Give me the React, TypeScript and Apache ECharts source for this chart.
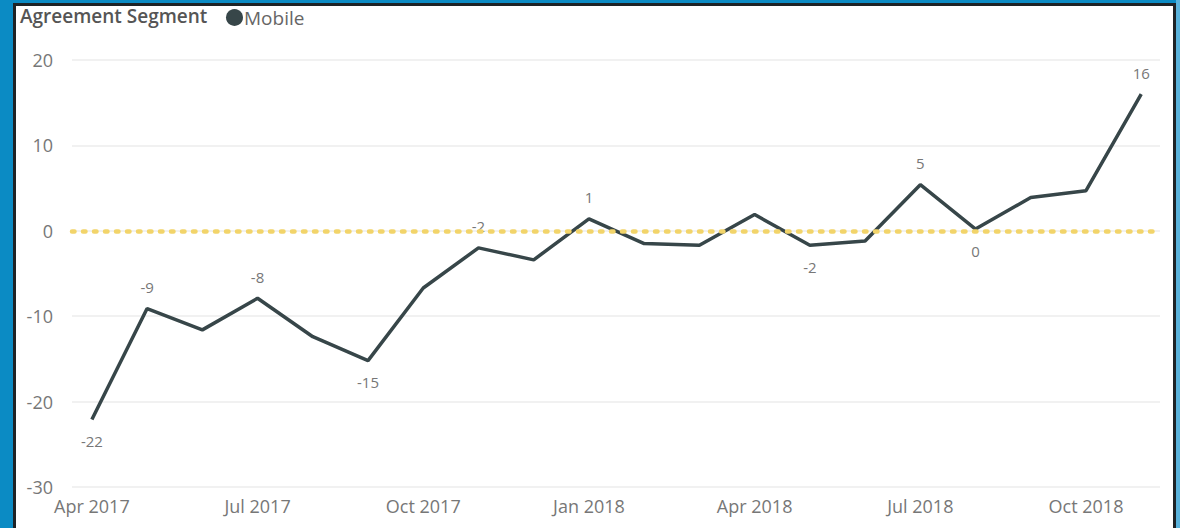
import React, { useEffect, useRef } from "react";
import * as echarts from "echarts";

const months = [
  "Apr 2017", "May 2017", "Jun 2017", "Jul 2017", "Aug 2017", "Sep 2017",
  "Oct 2017", "Nov 2017", "Dec 2017", "Jan 2018", "Feb 2018", "Mar 2018",
  "Apr 2018", "May 2018", "Jun 2018", "Jul 2018", "Aug 2018", "Sep 2018",
  "Oct 2018", "Nov 2018",
];
const mobile = [
  -22.1, -9.1, -11.6, -7.9, -12.4, -15.2, -6.7, -2.0, -3.4, 1.4,
  -1.5, -1.7, 1.9, -1.7, -1.2, 5.4, 0.2, 3.9, 4.7, 16.0,
];
// label placement per point: "top", "bottom" or "" (no label)
const labelPos = [
  "bottom", "top", "", "top", "", "bottom", "", "top", "", "top",
  "", "", "", "bottom", "", "top", "bottom", "", "", "top",
];
const xTickIdx = [0, 3, 6, 9, 12, 15, 18];
const yTicks = { min: -30, max: 20, interval: 10 };

const FONT = "'Open Sans', 'Noto Sans', sans-serif";

export default function App() {
  const ref = useRef<HTMLDivElement>(null);
  useEffect(() => {
    if (!ref.current) return;
    const chart = echarts.init(ref.current, null, { renderer: "svg" });
    const data = mobile.map((v, i) => {
      const pos = labelPos[i];
      return {
        value: [i, v],
        label: pos
          ? { show: true, position: pos, distance: 14, formatter: String(Math.round(v)) }
          : { show: false },
      };
    });
    chart.setOption({
      animation: false,
      textStyle: { fontFamily: FONT },
      grid: { left: 72, right: 20, top: 60, bottom: 41, containLabel: false },
      legend: {
        left: 221,
        top: 3,
        icon: "circle",
        itemWidth: 17,
        itemHeight: 17,
        itemGap: 4,
        data: ["Mobile"],
        textStyle: { fontSize: 19, color: "#666", fontFamily: FONT, padding: [0, 0, 0, -4] },
      },
      graphic: [
        {
          type: "text",
          left: 20,
          top: 6,
          style: { text: "Agreement Segment", fontSize: 19, fill: "#555", fontFamily: FONT, fontWeight: 600 },
        },
      ],
      xAxis: {
        type: "value",
        min: -0.36,
        max: 19.34,
        axisLine: { show: false },
        axisTick: { show: false },
        splitLine: { show: false },
        axisLabel: {
          customValues: xTickIdx,
          formatter: (v: number) => months[Math.round(v)] ?? "",
          color: "#777",
          fontSize: 18,
          margin: 10,
          fontFamily: FONT,
        },
      },
      yAxis: {
        type: "value",
        min: yTicks.min,
        max: yTicks.max,
        interval: yTicks.interval,
        axisLine: { show: false },
        axisTick: { show: false },
        splitLine: { lineStyle: { color: "#ececec", width: 1.5 } },
        axisLabel: { color: "#777", fontSize: 18, margin: 19, fontFamily: FONT },
      },
      series: [
        {
          name: "Mobile",
          type: "line",
          data,
          showSymbol: true,
          symbol: "circle",
          symbolSize: 0.01,
          itemStyle: { color: "#374649" },
          lineStyle: { color: "#374649", width: 3.5 },
          label: { color: "#777", fontSize: 15, fontFamily: FONT },
          labelLayout: { hideOverlap: false },
          markLine: {
            silent: true,
            symbol: "none",
            label: { show: false },
            lineStyle: { color: "#f2d46a", width: 4.5, type: [2.5, 8.5], cap: "round" },
            data: [{ yAxis: 0 }],
          },
          z: 3,
        },
      ],
    });
    return () => chart.dispose();
  }, []);

  return (
    <div style={{ position: "fixed", left: 0, top: 0, width: 1180, height: 528, background: "#0b8bc4", overflow: "hidden" }}>
      <div
        style={{
          position: "absolute",
          left: 13,
          top: 3,
          width: 1157,
          height: 540,
          background: "#fff",
          border: "3px solid #1e2326",
        }}
      />
      <div style={{ position: "absolute", left: 1176, top: 0, width: 4, height: 528, background: "#5ab3dc" }} />
      <div ref={ref} style={{ position: "absolute", left: 0, top: 0, width: 1180, height: 528 }} />
    </div>
  );
}
